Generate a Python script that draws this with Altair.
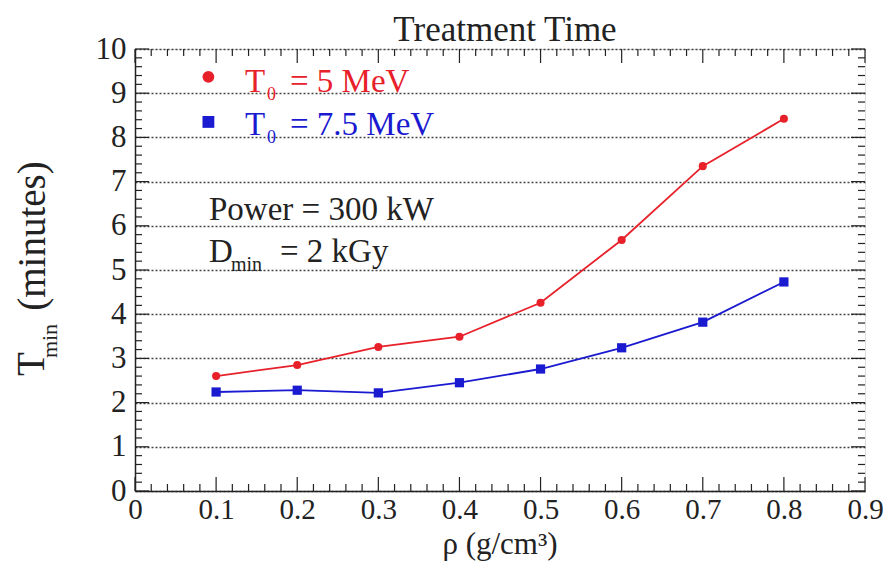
import altair as alt
import pandas as pd

# ---- data ----
rho = [0.1, 0.2, 0.3, 0.4, 0.5, 0.6, 0.7, 0.8]
t_5mev = [2.60, 2.85, 3.26, 3.49, 4.26, 5.68, 7.35, 8.42]
t_75mev = [2.24, 2.28, 2.22, 2.45, 2.76, 3.24, 3.82, 4.73]
x_major = [0.0, 0.1, 0.2, 0.3, 0.4, 0.5, 0.6, 0.7, 0.8, 0.9]
y_major = [0, 1, 2, 3, 4, 5, 6, 7, 8, 9, 10]
x_minor = [round(i * 0.02, 2) for i in range(46) if i % 5 != 0]
y_minor = [round(i * 0.2, 1) for i in range(51) if i % 5 != 0]

W, H = 730, 442
FONT = "Liberation Serif"
RED = "#e8202a"
BLUE = "#1a1ad0"
INK = "#222"

df5 = pd.DataFrame({"rho": rho, "t": t_5mev})
df75 = pd.DataFrame({"rho": rho, "t": t_75mev})

xs = alt.Scale(domain=[0, 0.9], nice=False, zero=False)
ys = alt.Scale(domain=[0, 10], nice=False, zero=False)

xaxis = alt.Axis(
    title=None, values=x_major, ticks=False, grid=False,
    labelExpr="datum.value == 0 ? '0' : format(datum.value, '.1f')",
    labelFont=FONT, labelFontSize=29, labelColor=INK, labelPadding=4,
    domainColor=INK, domainWidth=1.5, labelFlush=False,
)
yaxis = alt.Axis(
    title=None, values=y_major, ticks=False, grid=True,
    gridDash=[2, 2], gridColor="#444", gridWidth=1.3,
    labelFont=FONT, labelFontSize=31, labelColor=INK, labelPadding=9,
    domainColor=INK, domainWidth=1.5, labelFlush=False,
)

def X(field):
    return alt.X(f"{field}:Q", scale=xs, axis=xaxis)

def Y(field):
    return alt.Y(f"{field}:Q", scale=ys, axis=yaxis)

red_line = alt.Chart(df5).mark_line(color=RED, strokeWidth=1.8).encode(x=X("rho"), y=Y("t"))
red_pts = alt.Chart(df5).mark_point(shape="circle", filled=True, color=RED, size=65, opacity=1).encode(x=X("rho"), y=Y("t"))
blue_line = alt.Chart(df75).mark_line(color=BLUE, strokeWidth=1.8).encode(x=X("rho"), y=Y("t"))
blue_pts = alt.Chart(df75).mark_point(shape="square", filled=True, color=BLUE, size=85, opacity=1).encode(x=X("rho"), y=Y("t"))

# inward ticks on all four sides
def xticks(vals, length):
    d = pd.DataFrame({"rho": vals})
    bottom = alt.Chart(d).mark_rule(color=INK, strokeWidth=1.2).encode(
        x=X("rho"), y=alt.value(H), y2=alt.value(H - length))
    top = alt.Chart(d).mark_rule(color=INK, strokeWidth=1.2).encode(
        x=X("rho"), y=alt.value(0), y2=alt.value(length))
    return [bottom, top]

def yticks(vals, length):
    d = pd.DataFrame({"t": vals})
    left = alt.Chart(d).mark_rule(color=INK, strokeWidth=1.2).encode(
        y=Y("t"), x=alt.value(0), x2=alt.value(length))
    right = alt.Chart(d).mark_rule(color=INK, strokeWidth=1.2).encode(
        y=Y("t"), x=alt.value(W), x2=alt.value(W - length))
    return [left, right]

tick_layers = xticks(x_major, 14) + xticks(x_minor, 7) + yticks(y_major, 14) + yticks(y_minor, 7)

def txt(s, px, py, size, color=INK, angle=0, align="left", baseline="middle"):
    d = pd.DataFrame({"s": [s]})
    return alt.Chart(d).mark_text(
        font=FONT, fontSize=size, color=color, align=align, baseline=baseline, angle=angle
    ).encode(text="s:N", x=alt.value(px), y=alt.value(py))

# positions given in page pixels, converted to plot-relative
OX, OY = 135, 49
texts = [
    txt("Treatment Time", 505 - OX, 30 - OY, 35, align="center"),
    txt("ρ (g/cm³)", 500 - OX, 545 - OY, 31, align="center"),
    # y title (rotated)
    txt("T", 32 - OX, 364 - OY, 39, angle=270, align="center"),
    txt("min", 50 - OX, 341 - OY, 22, angle=270, align="center"),
    txt("(minutes)", 33 - OX, 236 - OY, 39, angle=270, align="center"),
    # legend
    txt("T", 245 - OX, 82 - OY, 33, color=RED),
    txt("0", 267 - OX, 95 - OY, 18, color=RED),
    txt("= 5 MeV", 290 - OX, 82 - OY, 33, color=RED),
    txt("T", 245 - OX, 125 - OY, 33, color=BLUE),
    txt("0", 267 - OX, 138 - OY, 18, color=BLUE),
    txt("= 7.5 MeV", 290 - OX, 125 - OY, 33, color=BLUE),
    txt("Power = 300 kW", 209 - OX, 210 - OY, 33),
    txt("D", 209 - OX, 252 - OY, 33),
    txt("min", 231 - OX, 265 - OY, 20),
    txt("= 2 kGy", 280 - OX, 252 - OY, 33),
]

leg_df = pd.DataFrame({"rho": [0.0905], "t": [9.37]})
leg_df2 = pd.DataFrame({"rho": [0.0905], "t": [8.35]})
leg_red = alt.Chart(leg_df).mark_point(shape="circle", filled=True, color=RED, size=140, opacity=1).encode(x=X("rho"), y=Y("t"))
leg_blue = alt.Chart(leg_df2).mark_point(shape="square", filled=True, color=BLUE, size=140, opacity=1).encode(x=X("rho"), y=Y("t"))

chart = alt.layer(
    *tick_layers, red_line, blue_line, red_pts, blue_pts, leg_red, leg_blue, *texts
).properties(
    width=W, height=H,
    autosize=alt.AutoSizeParams(type="none"),
    padding={"left": OX - 8, "top": OY - 8, "right": 19, "bottom": 70},
).configure_view(
    stroke=INK, strokeWidth=1.5
).configure(background="white")

chart.save("out.html", embed_options={"renderer": "svg", "actions": False})
